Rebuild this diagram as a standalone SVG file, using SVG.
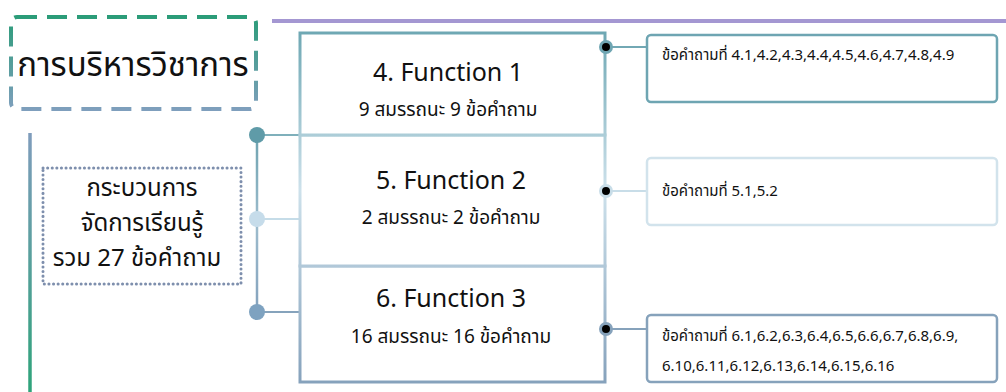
<svg xmlns="http://www.w3.org/2000/svg" width="1006" height="392" viewBox="0 0 1006 392">
  <defs>
    <linearGradient id="gTitle" x1="0" y1="16" x2="0" y2="110" gradientUnits="userSpaceOnUse">
      <stop offset="0" stop-color="#2a9c78"/>
      <stop offset="1" stop-color="#7f9fbd"/>
    </linearGradient>
    <linearGradient id="gSpine" x1="0" y1="133" x2="0" y2="392" gradientUnits="userSpaceOnUse">
      <stop offset="0" stop-color="#7f9cbc"/>
      <stop offset="1" stop-color="#2ea37a"/>
    </linearGradient>
    <linearGradient id="gFrame" x1="0" y1="33" x2="0" y2="382" gradientUnits="userSpaceOnUse">
      <stop offset="0" stop-color="#6fa8b4"/>
      <stop offset="0.45" stop-color="#cde1eb"/>
      <stop offset="1" stop-color="#86a2bc"/>
    </linearGradient>
    <linearGradient id="gBracket" x1="0" y1="135" x2="0" y2="312" gradientUnits="userSpaceOnUse">
      <stop offset="0" stop-color="#6ea3b0"/>
      <stop offset="0.5" stop-color="#9dbccd"/>
      <stop offset="1" stop-color="#84a2bd"/>
    </linearGradient>
  </defs>
  <style>
    .th { font-family: "Noto Sans Thai", "Noto Sans", "DejaVu Sans", sans-serif; fill: #111; }
    .title { font-size: 33px; text-anchor: middle; }
    .sub { font-size: 24px; text-anchor: middle; }
    .fn { font-size: 25px; text-anchor: middle; }
    .cnt { font-size: 19px; text-anchor: middle; }
    .q { font-size: 15px; }
    .frame { fill: #fff; stroke: url(#gFrame); stroke-width: 3; }
    .qbox { fill: #fff; stroke-width: 2.5; }
    .link { fill: none; stroke-width: 2; }
    .dot { fill: #000; stroke-width: 3; }
  </style>

  <!-- top rule -->
  <line x1="272" y1="21" x2="1006" y2="21" stroke="#a497d2" stroke-width="4"/>

  <!-- left spine -->
  <line x1="30" y1="133" x2="30" y2="392" stroke="url(#gSpine)" stroke-width="3.5"/>

  <!-- title -->
  <g id="title">
    <rect x="11" y="17" width="245" height="92" rx="6" fill="#fff" stroke="url(#gTitle)" stroke-width="4" stroke-dasharray="20 10"/>
    <text class="th title" x="133" y="76">การบริหารวิชาการ</text>
  </g>

  <!-- summary -->
  <g id="summary">
    <rect x="43" y="168" width="198" height="116" fill="#fff" stroke="#7e8fad" stroke-width="3" stroke-dasharray="0.1 4.5" stroke-linecap="round"/>
    <text class="th sub" x="142" y="196">กระบวนการ</text>
    <text class="th sub" x="142" y="231">จัดการเรียนรู้</text>
    <text class="th sub" x="137" y="266">รวม 27 ข้อคำถาม</text>
  </g>

  <!-- connectors -->
  <g id="connectors">
    <line x1="257" y1="135" x2="257" y2="312" stroke="url(#gBracket)" stroke-width="2.5"/>
    <line class="link" x1="257" y1="135" x2="300" y2="135" stroke="#7fb0bb"/>
    <line class="link" x1="257" y1="219" x2="300" y2="219" stroke="#c5dce8"/>
    <line class="link" x1="257" y1="312" x2="300" y2="312" stroke="#86a3bc"/>
    <circle cx="257" cy="135" r="8" fill="#5f9ba8"/>
    <circle cx="257" cy="219" r="8" fill="#c6dcea"/>
    <circle cx="257" cy="312" r="8" fill="#7ea2c0"/>

    <line class="link" x1="607" y1="47" x2="647" y2="47" stroke="#72a8b4"/>
    <line class="link" x1="607" y1="191" x2="647" y2="191" stroke="#c8dde8"/>
    <line class="link" x1="607" y1="329" x2="647" y2="329" stroke="#86a2bb"/>
  </g>

  <!-- function blocks -->
  <g id="function3">
    <rect class="frame" x="300" y="266" width="305" height="116"/>
    <text class="th fn" x="451" y="307">6. Function 3</text>
    <text class="th cnt" x="451" y="343">16 สมรรถนะ 16 ข้อคำถาม</text>
  </g>
  <g id="function2">
    <rect class="frame" x="300" y="135" width="305" height="131"/>
    <text class="th fn" x="451" y="189">5. Function 2</text>
    <text class="th cnt" x="451" y="224">2 สมรรถนะ 2 ข้อคำถาม</text>
  </g>
  <g id="function1">
    <rect class="frame" x="300" y="33" width="305" height="102"/>
    <text class="th fn" x="448" y="81">4. Function 1</text>
    <text class="th cnt" x="448" y="116">9 สมรรถนะ 9 ข้อคำถาม</text>
  </g>

  <!-- port dots on the right edge -->
  <g id="ports">
    <circle class="dot" cx="606" cy="47" r="5.5" stroke="#6fa5b2"/>
    <circle class="dot" cx="606" cy="191" r="5.5" stroke="#c8dde8"/>
    <circle class="dot" cx="606" cy="329" r="5.5" stroke="#86a2bb"/>
  </g>

  <!-- question lists -->
  <g id="questions1">
    <rect class="qbox" x="647" y="35" width="350" height="67" rx="4" stroke="#6ea5b2"/>
    <text class="th q" x="662" y="60">ข้อคำถามที่ 4.1,4.2,4.3,4.4,4.5,4.6,4.7,4.8,4.9</text>
  </g>
  <g id="questions2">
    <rect class="qbox" x="647" y="158" width="350" height="67" rx="4" stroke="#d2e3ec"/>
    <text class="th q" x="662" y="196">ข้อคำถามที่ 5.1,5.2</text>
  </g>
  <g id="questions3">
    <rect class="qbox" x="647" y="315" width="350" height="67" rx="4" stroke="#86a2bb"/>
    <text class="th q" x="662" y="341">ข้อคำถามที่ 6.1,6.2,6.3,6.4,6.5,6.6,6.7,6.8,6.9,</text>
    <text class="th q" x="662" y="371">6.10,6.11,6.12,6.13,6.14,6.15,6.16</text>
  </g>
</svg>
